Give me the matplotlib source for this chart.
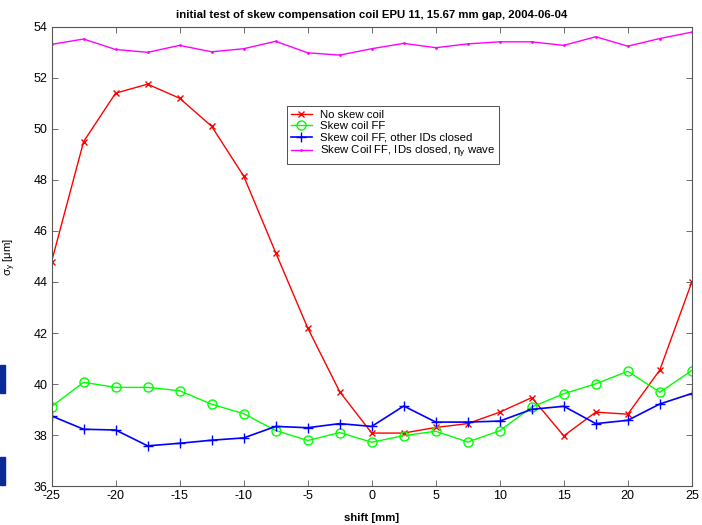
import numpy as np
import matplotlib.pyplot as plt
from matplotlib.patches import Rectangle

plt.rcParams['font.family'] = ['Liberation Sans', 'DejaVu Sans']
plt.rcParams['axes.unicode_minus'] = False
plt.rcParams['mathtext.fontset'] = 'custom'
plt.rcParams['mathtext.rm'] = 'Liberation Sans'
plt.rcParams['mathtext.it'] = 'Liberation Sans'

shift = np.arange(-25, 25.1, 2.5)

no_skew = [44.8, 49.5, 51.4, 51.75, 51.2, 50.1, 48.15, 45.15, 42.2, 39.7, 38.08,
           38.08, 38.3, 38.45, 38.9, 39.47, 37.97, 38.9, 38.82, 40.55, 44.0]
skew_ff = [39.12, 40.07, 39.87, 39.87, 39.74, 39.21, 38.84, 38.18, 37.79, 38.1, 37.72,
           37.98, 38.15, 37.73, 38.17, 39.1, 39.62, 40.01, 40.5, 39.68, 40.53]
skew_ff_closed = [38.75, 38.23, 38.2, 37.58, 37.68, 37.8, 37.89, 38.34, 38.29, 38.45, 38.34,
                  39.14, 38.51, 38.51, 38.55, 39.01, 39.13, 38.45, 38.58, 39.22, 39.63]
skew_ff_eta = [53.31, 53.52, 53.11, 53.0, 53.27, 53.02, 53.14, 53.43, 52.98, 52.89, 53.14,
               53.35, 53.18, 53.33, 53.41, 53.41, 53.27, 53.61, 53.24, 53.54, 53.79]

fig = plt.figure(figsize=(7.02, 5.25), dpi=100)
ax = fig.add_axes([0.0735, 0.074, 0.912, 0.875])

ax.plot(shift, no_skew, color='#ff0000', marker='x', markersize=5, linewidth=1, label='No skew coil')
ax.plot(shift, skew_ff, color='#00ff00', marker='o', markersize=6.5, markerfacecolor='none',
        linewidth=1, label='Skew coil FF')
ax.plot(shift, skew_ff_closed, color='#0000ff', marker='+', markersize=7, linewidth=1.2,
        label='Skew coil FF, other IDs closed')
ax.plot(shift, skew_ff_eta, color='#ff00ff', marker='.', markersize=2, linewidth=1,
        label=r'Skew Coil FF, IDs closed, $\mathregular{\eta_y}$ wave')

ax.set_xlim(-25, 25)
ax.set_ylim(36, 54)
ax.set_xticks(np.arange(-25, 26, 5))
ax.set_yticks(np.arange(36, 55, 2))
ax.tick_params(direction='in', top=True, right=True, labelsize=9, length=4, width=0.6,
               color='#555555', pad=3)
for spine in ax.spines.values():
    spine.set_color('#555555')
    spine.set_linewidth(0.8)

ax.set_title('initial test of skew compensation coil EPU 11, 15.67 mm gap, 2004-06-04',
             fontsize=8.2, fontweight='bold', pad=6)
ax.set_xlabel('shift [mm]', fontsize=8.2, fontweight='bold', labelpad=8)
ax.set_ylabel(r'$\mathregular{\sigma_y}$ [$\mathregular{\mu}$m]', fontsize=8.2, labelpad=11)

leg = ax.legend(loc='upper left', bbox_to_anchor=(0.367, 0.828), fontsize=8.2, fancybox=False,
                edgecolor='#333333', framealpha=1, handlelength=1.9, borderpad=0.35,
                labelspacing=0.12, handletextpad=0.7, borderaxespad=0)
leg.get_frame().set_linewidth(0.6)

# stray blue marks at left edge
fig.patches.append(Rectangle((0, 1 - 393 / 525), 5 / 702, 28 / 525, transform=fig.transFigure,
                             color='#0a2a9a', zorder=5))
fig.patches.append(Rectangle((0, 1 - 485 / 525), 5 / 702, 28 / 525, transform=fig.transFigure,
                             color='#0a2a9a', zorder=5))

fig.savefig('out.png', dpi=100)
